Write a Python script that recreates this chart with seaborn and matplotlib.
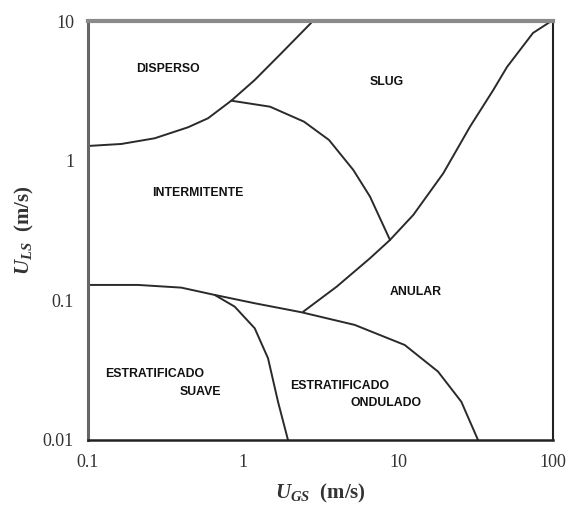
import matplotlib
matplotlib.use("Agg")
import matplotlib.pyplot as plt
import seaborn as sns
import pandas as pd

# ---- data (U_GS, U_LS in m/s) ----
disp_x = [0.1, 0.164, 0.269, 0.442, 0.595, 0.840, 1.190, 1.766, 2.758, 2.80]
disp_y = [1.274, 1.317, 1.446, 1.734, 2.012, 2.688, 3.781, 5.873, 9.72, 10.0]

slug_x = [0.840, 1.494, 2.475, 3.587, 5.147, 6.597, 8.880]
slug_y = [2.688, 2.435, 1.902, 1.407, 0.858, 0.553, 0.2706]

anul_x = [2.449, 4.022, 6.597, 8.880, 12.55, 19.60, 29.14, 41.19, 50.50, 74.3, 95.6]
anul_y = [0.0830, 0.1253, 0.2001, 0.2706, 0.4087, 0.8124, 1.751, 3.207, 4.686, 8.21, 9.84]

strat_x = [0.1, 0.210, 0.400, 0.657, 1.190, 2.377, 5.255, 11.05, 18.12, 25.61, 32.82]
strat_y = [0.1289, 0.1289, 0.1233, 0.1093, 0.0953, 0.0822, 0.0667, 0.0479, 0.0309, 0.0188, 0.01]

wavy_x = [0.657, 0.884, 1.190, 1.450, 1.682, 1.951]
wavy_y = [0.1093, 0.0901, 0.0631, 0.0385, 0.0188, 0.01]

region_names = ["DISPERSO", "SLUG", "INTERMITENTE", "ANULAR",
                "ESTRATIFICADO", "SUAVE", "ESTRATIFICADO", "ONDULADO"]
region_x = [0.328, 8.49, 0.513, 13.1, 0.270, 0.528, 4.23, 8.38]
region_y = [4.53, 3.66, 0.587, 0.115, 0.0297, 0.0221, 0.0244, 0.0185]

xticks = [0.1, 1, 10, 100]
xtick_labels = ["0.1", "1", "10", "100"]
yticks = [0.01, 0.1, 1, 10]
ytick_labels = ["0.01", "0.1", "1", "10"]

# ---- plotting ----
sns.set_theme(style="white")
plt.rcParams["mathtext.fontset"] = "custom"
plt.rcParams["mathtext.it"] = "Liberation Serif:italic:bold"
plt.rcParams["mathtext.rm"] = "Liberation Serif:bold"
plt.rcParams["mathtext.bf"] = "Liberation Serif:bold"

fig = plt.figure(figsize=(5.69, 5.11), dpi=100)
ax = fig.add_axes([88 / 569, 1 - 440 / 511, (553 - 88) / 569, (440 - 21) / 511])

curves = [(disp_x, disp_y), (slug_x, slug_y), (anul_x, anul_y),
          (strat_x, strat_y), (wavy_x, wavy_y)]
for cx, cy in curves:
    df = pd.DataFrame({"x": cx, "y": cy})
    sns.lineplot(data=df, x="x", y="y", ax=ax, color="#2a2a2a", lw=1.4,
                 sort=False, estimator=None)

ax.set_xscale("log")
ax.set_yscale("log")
ax.set_xlim(0.1, 100)
ax.set_ylim(0.01, 10)
ax.set_xticks(xticks)
ax.set_xticklabels(xtick_labels)
ax.set_yticks(yticks)
ax.set_yticklabels(ytick_labels)
ax.minorticks_off()
ax.tick_params(axis="both", which="major", direction="out", length=4,
               width=1.2, color="#444444", labelsize=13, labelcolor="#333333", pad=6)
for lab in ax.get_xticklabels() + ax.get_yticklabels():
    lab.set_fontfamily("Liberation Serif")

ax.spines["top"].set_color("#8a8a8a")
ax.spines["top"].set_linewidth(3)
ax.spines["left"].set_color("#666666")
ax.spines["left"].set_linewidth(2.2)
ax.spines["bottom"].set_color("#222222")
ax.spines["bottom"].set_linewidth(1.8)
ax.spines["right"].set_color("#222222")
ax.spines["right"].set_linewidth(1.5)

ax.set_xlabel(r"$U_{GS}$  (m/s)", fontsize=15, fontfamily="Liberation Serif",
              fontweight="bold", color="#333333", labelpad=8)
ax.set_ylabel(r"$U_{LS}$  (m/s)", fontsize=15, fontfamily="Liberation Serif",
              fontweight="bold", color="#333333", labelpad=5)

for name, tx, ty in zip(region_names, region_x, region_y):
    ax.text(tx, ty, name, ha="center", va="center", fontsize=8.8,
            fontfamily="Liberation Sans", fontweight="bold", color="#111111")

fig.savefig("out.png", dpi=100)
